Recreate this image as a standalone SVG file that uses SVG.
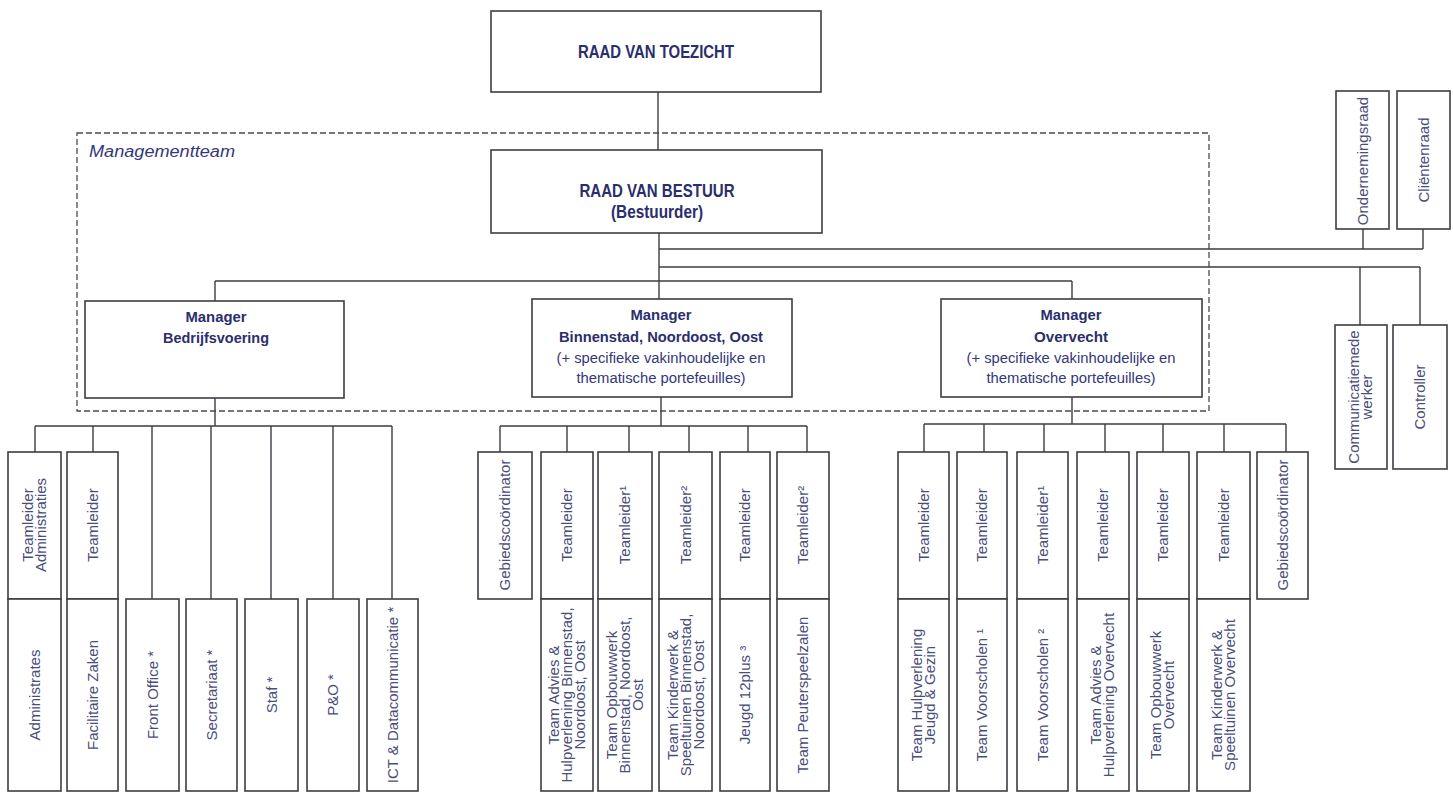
<svg xmlns="http://www.w3.org/2000/svg" width="1453" height="793" viewBox="0 0 1453 793">
<style>
.box{fill:#fff;stroke:#3c3c44;stroke-width:1.6}
.ln{stroke:#3c3c44;stroke-width:1.4;fill:none}
.dash{fill:none;stroke:#4a4a55;stroke-width:1.3;stroke-dasharray:6,3}
.hd{font-family:"Liberation Sans Narrow","Liberation Sans",Arial,sans-serif;font-weight:bold;fill:#2b2e6c;text-anchor:middle}
.rg{font-family:"Liberation Sans",Arial,sans-serif;fill:#34377a;text-anchor:middle;font-size:14px}
.vt{font-family:"Liberation Sans",Arial,sans-serif;fill:#4a4e7a;text-anchor:middle;font-size:15px}
.it{font-family:"Liberation Sans",Arial,sans-serif;font-style:italic;fill:#34377a;font-size:16px}
</style>
<rect width="1453" height="793" fill="#fff"/>
<rect class="dash" x="77" y="133" width="1132" height="278"/>
<text class="it" x="89" y="157" textLength="146" lengthAdjust="spacingAndGlyphs">Managementteam</text>

<g id="connectors">
<path class="ln" d="M658 92V150"/>
<path class="ln" d="M659 233V299"/>
<path class="ln" d="M659 249H1423M1363 229V249M1423 229V249"/>
<path class="ln" d="M659 267H1420M1360 267V325M1420 267V325"/>
<path class="ln" d="M215 281H1072M215 281V301M1072 281V299"/>
<path class="ln" d="M215 398V426M35 426H392M35 426V452M93 426V452M152 426V599M211 426V599M271 426V599M333 426V599M392 426V599"/>
<path class="ln" d="M661 397V426M500 426H807M500 426V452M567 426V452M629 426V452M689 426V452M748 426V452M807 426V452"/>
<path class="ln" d="M1072 397V424M924 424H1286M924 424V452M984 424V452M1044 424V452M1105 424V452M1163 424V452M1224 424V452M1286 424V452"/>
</g>

<g id="raad-van-toezicht">
<rect class="box" x="491" y="11" width="330" height="81"/>
<text class="hd" x="656" y="58" font-size="19" textLength="156" lengthAdjust="spacingAndGlyphs">RAAD VAN TOEZICHT</text>
</g>
<g id="raad-van-bestuur">
<rect class="box" x="491" y="150" width="331" height="83"/>
<text class="hd" x="657" y="197" font-size="19" textLength="155" lengthAdjust="spacingAndGlyphs">RAAD VAN BESTUUR</text>
<text class="hd" x="657" y="218" font-size="18" textLength="92" lengthAdjust="spacingAndGlyphs">(Bestuurder)</text>
</g>

<g id="ondernemingsraad">
<rect class="box" x="1336" y="91" width="53" height="138"/>
<text class="vt" transform="translate(1362.5,161) rotate(-90)" y="5" font-size="15.5">Ondernemingsraad</text>
</g>
<g id="clientenraad">
<rect class="box" x="1397" y="91" width="53" height="138"/>
<text class="vt" transform="translate(1423.5,160) rotate(-90)" y="5">Cliëntenraad</text>
</g>
<g id="communicatiemedewerker">
<rect class="box" x="1335" y="325" width="52" height="144"/>
<text class="vt" transform="translate(1361,397) rotate(-90)" font-size="14"><tspan x="0" y="-2">Communicatiemede</tspan><tspan x="0" y="11">werker</tspan></text>
</g>
<g id="controller">
<rect class="box" x="1393" y="325" width="54" height="144"/>
<text class="vt" transform="translate(1420,397) rotate(-90)" y="5">Controller</text>
</g>

<g id="manager-bedrijfsvoering">
<rect class="box" x="85" y="301" width="259" height="97"/>
<text class="hd" x="216" y="322" font-size="15" textLength="61" lengthAdjust="spacingAndGlyphs">Manager</text>
<text class="hd" x="216" y="343" font-size="15" textLength="106" lengthAdjust="spacingAndGlyphs">Bedrijfsvoering</text>
</g>
<g id="manager-binnenstad">
<rect class="box" x="532" y="299" width="260" height="98"/>
<text class="hd" x="661" y="320" font-size="15" textLength="61" lengthAdjust="spacingAndGlyphs">Manager</text>
<text class="hd" x="661" y="342" font-size="15" textLength="204" lengthAdjust="spacingAndGlyphs">Binnenstad, Noordoost, Oost</text>
<text class="rg" x="661" y="363" textLength="209" lengthAdjust="spacingAndGlyphs">(+ specifieke vakinhoudelijke en</text>
<text class="rg" x="661" y="383" textLength="169" lengthAdjust="spacingAndGlyphs">thematische portefeuilles)</text>
</g>
<g id="manager-overvecht">
<rect class="box" x="941" y="299" width="261" height="98"/>
<text class="hd" x="1071" y="320" font-size="15" textLength="61" lengthAdjust="spacingAndGlyphs">Manager</text>
<text class="hd" x="1071" y="342" font-size="15" textLength="74" lengthAdjust="spacingAndGlyphs">Overvecht</text>
<text class="rg" x="1071" y="363" textLength="209" lengthAdjust="spacingAndGlyphs">(+ specifieke vakinhoudelijke en</text>
<text class="rg" x="1071" y="383" textLength="169" lengthAdjust="spacingAndGlyphs">thematische portefeuilles)</text>
</g>

<!-- Bedrijfsvoering units -->
<g id="teamleider-administraties">
<rect class="box" x="8" y="452" width="53" height="147"/>
<text class="vt" transform="translate(34.5,525) rotate(-90)" font-size="14"><tspan x="0" y="-2">Teamleider</tspan><tspan x="0" y="11">Administraties</tspan></text>
</g>
<g id="administrates">
<rect class="box" x="8" y="599" width="53" height="192"/>
<text class="vt" transform="translate(34.5,695) rotate(-90)" y="5">Administrates</text>
</g>
<g id="teamleider-facilitair">
<rect class="box" x="67" y="452" width="51" height="147"/>
<text class="vt" transform="translate(92.5,525) rotate(-90)" y="5">Teamleider</text>
</g>
<g id="facilitaire-zaken">
<rect class="box" x="67" y="599" width="51" height="192"/>
<text class="vt" transform="translate(92.5,695) rotate(-90)" y="5">Facilitaire Zaken</text>
</g>
<g id="front-office">
<rect class="box" x="126" y="599" width="53" height="192"/>
<text class="vt" transform="translate(152.5,695) rotate(-90)" y="5">Front Office *</text>
</g>
<g id="secretariaat">
<rect class="box" x="186" y="599" width="51" height="192"/>
<text class="vt" transform="translate(211.5,695) rotate(-90)" y="5">Secretariaat *</text>
</g>
<g id="staf">
<rect class="box" x="245" y="599" width="53" height="192"/>
<text class="vt" transform="translate(271.5,695) rotate(-90)" y="5">Staf *</text>
</g>
<g id="p-en-o">
<rect class="box" x="307" y="599" width="52" height="192"/>
<text class="vt" transform="translate(333,695) rotate(-90)" y="5">P&amp;O *</text>
</g>
<g id="ict">
<rect class="box" x="367" y="599" width="51" height="192"/>
<text class="vt" transform="translate(392.5,695) rotate(-90)" y="5">ICT &amp; Datacommunicatie *</text>
</g>

<!-- Binnenstad units -->
<g id="gebiedscoordinator-b">
<rect class="box" x="478" y="452" width="54" height="147"/>
<text class="vt" transform="translate(505,525) rotate(-90)" y="5" font-size="14">Gebiedscoördinator</text>
</g>
<g id="b-teamleider-1">
<rect class="box" x="541" y="452" width="52" height="147"/>
<text class="vt" transform="translate(567,525) rotate(-90)" y="5">Teamleider</text>
<rect class="box" x="541" y="599" width="52" height="192"/>
<text class="vt" transform="translate(567,695) rotate(-90)" font-size="14"><tspan x="0" y="-8">Team Advies &amp;</tspan><tspan x="0" y="5">Hulpverlening Binnenstad,</tspan><tspan x="0" y="18">Noordoost, Oost</tspan></text>
</g>
<g id="b-teamleider-2">
<rect class="box" x="598" y="452" width="54" height="147"/>
<text class="vt" transform="translate(625,525) rotate(-90)" y="5">Teamleider¹</text>
<rect class="box" x="598" y="599" width="54" height="192"/>
<text class="vt" transform="translate(625,695) rotate(-90)" font-size="14"><tspan x="0" y="-8">Team Opbouwwerk</tspan><tspan x="0" y="5">Binnenstad, Noordoost,</tspan><tspan x="0" y="18">Oost</tspan></text>
</g>
<g id="b-teamleider-3">
<rect class="box" x="659" y="452" width="53" height="147"/>
<text class="vt" transform="translate(685.5,525) rotate(-90)" y="5">Teamleider²</text>
<rect class="box" x="659" y="599" width="53" height="192"/>
<text class="vt" transform="translate(685.5,695) rotate(-90)" font-size="14"><tspan x="0" y="-8">Team Kinderwerk &amp;</tspan><tspan x="0" y="5">Speeltuinen Binnenstad,</tspan><tspan x="0" y="18">Noordoost, Oost</tspan></text>
</g>
<g id="b-teamleider-4">
<rect class="box" x="720" y="452" width="50" height="147"/>
<text class="vt" transform="translate(745,525) rotate(-90)" y="5">Teamleider</text>
<rect class="box" x="720" y="599" width="50" height="192"/>
<text class="vt" transform="translate(745,695) rotate(-90)" y="5">Jeugd 12plus ³</text>
</g>
<g id="b-teamleider-5">
<rect class="box" x="777" y="452" width="52" height="147"/>
<text class="vt" transform="translate(803,525) rotate(-90)" y="5">Teamleider²</text>
<rect class="box" x="777" y="599" width="52" height="192"/>
<text class="vt" transform="translate(803,695) rotate(-90)" y="5">Team Peuterspeelzalen</text>
</g>

<!-- Overvecht units -->
<g id="o-teamleider-1">
<rect class="box" x="898" y="452" width="51" height="147"/>
<text class="vt" transform="translate(923.5,525) rotate(-90)" y="5">Teamleider</text>
<rect class="box" x="898" y="599" width="51" height="192"/>
<text class="vt" transform="translate(923.5,695) rotate(-90)" font-size="14"><tspan x="0" y="-2">Team Hulpverlening</tspan><tspan x="0" y="11">Jeugd &amp; Gezin</tspan></text>
</g>
<g id="o-teamleider-2">
<rect class="box" x="957" y="452" width="50" height="147"/>
<text class="vt" transform="translate(982,525) rotate(-90)" y="5">Teamleider</text>
<rect class="box" x="957" y="599" width="50" height="192"/>
<text class="vt" transform="translate(982,695) rotate(-90)" y="5">Team Voorscholen ¹</text>
</g>
<g id="o-teamleider-3">
<rect class="box" x="1017" y="452" width="51" height="147"/>
<text class="vt" transform="translate(1042.5,525) rotate(-90)" y="5">Teamleider¹</text>
<rect class="box" x="1017" y="599" width="51" height="192"/>
<text class="vt" transform="translate(1042.5,695) rotate(-90)" y="5">Team Voorscholen ²</text>
</g>
<g id="o-teamleider-4">
<rect class="box" x="1077" y="452" width="52" height="147"/>
<text class="vt" transform="translate(1103,525) rotate(-90)" y="5">Teamleider</text>
<rect class="box" x="1077" y="599" width="52" height="192"/>
<text class="vt" transform="translate(1103,695) rotate(-90)" font-size="14"><tspan x="0" y="-2">Team Advies &amp;</tspan><tspan x="0" y="11">Hulpverlening Overvecht</tspan></text>
</g>
<g id="o-teamleider-5">
<rect class="box" x="1137" y="452" width="52" height="147"/>
<text class="vt" transform="translate(1163,525) rotate(-90)" y="5">Teamleider</text>
<rect class="box" x="1137" y="599" width="52" height="192"/>
<text class="vt" transform="translate(1163,695) rotate(-90)" font-size="14"><tspan x="0" y="-2">Team Opbouwwerk</tspan><tspan x="0" y="11">Overvecht</tspan></text>
</g>
<g id="o-teamleider-6">
<rect class="box" x="1197" y="452" width="53" height="147"/>
<text class="vt" transform="translate(1223.5,525) rotate(-90)" y="5">Teamleider</text>
<rect class="box" x="1197" y="599" width="53" height="192"/>
<text class="vt" transform="translate(1223.5,695) rotate(-90)" font-size="14"><tspan x="0" y="-2">Team Kinderwerk &amp;</tspan><tspan x="0" y="11">Speeltuinen Overvecht</tspan></text>
</g>
<g id="gebiedscoordinator-o">
<rect class="box" x="1257" y="452" width="51" height="147"/>
<text class="vt" transform="translate(1282.5,525) rotate(-90)" y="5" font-size="14">Gebiedscoördinator</text>
</g>
</svg>
